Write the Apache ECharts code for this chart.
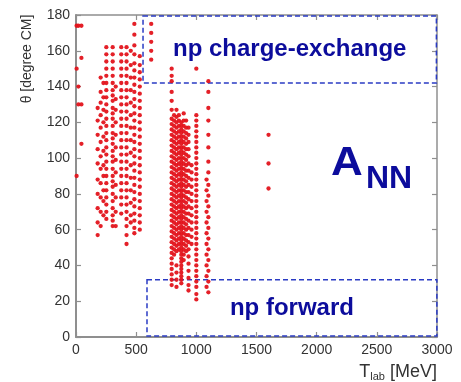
<!DOCTYPE html>
<html>
<head>
<meta charset="utf-8">
<script src="https://cdn.jsdelivr.net/npm/echarts@6/dist/echarts.min.js"></script>
<style>
  html, body { margin: 0; padding: 0; background: #fff; }
  #chart { width: 461px; height: 382px; }
</style>
</head>
<body>
<div id="chart"></div>
<script>
// T_lab [MeV] of each measurement column
var energies = [5, 20, 45, 180, 205, 228, 252, 305, 330, 376, 420, 455, 485, 530, 625,
    795, 815, 835, 855, 875, 895, 915, 935, 960, 1000, 1085, 1100, 1600];

// theta [degree CM] measured at each column
var angles = [
    [174, 150, 90],
    [174, 140, 130],
    [174, 156, 130, 108],
    [128, 121, 113, 105, 97, 88, 80, 72, 64, 57],
    [145, 137, 131, 124, 117, 109, 101, 94, 86, 78, 70, 62],
    [142, 134, 127, 120, 112, 104, 96, 90, 82, 76, 68],
    [162, 158, 154, 150, 146, 142, 138, 134, 130, 126, 122, 118, 114, 110, 106, 102, 98, 94, 90, 86, 82, 78, 74, 70, 66],
    [162, 158, 154, 150, 146, 142, 138, 135, 132, 128, 125, 122, 118, 114, 111, 108, 104, 101, 98, 94, 90, 87, 84, 80, 76, 72, 68, 65, 62],
    [140, 133, 127, 120, 113, 106, 99, 92, 85, 78, 70, 62],
    [162, 158, 154, 150, 146, 142, 138, 134, 130, 126, 122, 118, 114, 110, 106, 102, 98, 94, 90, 86, 82, 78, 74, 69],
    [162, 158, 154, 150, 146, 142, 138, 134, 130, 126, 122, 118, 114, 110, 106, 102, 98, 94, 90, 86, 82, 78, 74, 70, 66, 62, 57, 52],
    [160, 152, 145, 138, 131, 124, 117, 110, 103, 96, 89, 82, 75, 68, 64],
    [175, 169, 163, 158, 153, 149, 145, 141, 137, 133, 129, 125, 121, 117, 113, 109, 105, 101, 97, 93, 89, 85, 81, 77, 73, 69, 65, 61, 58],
    [157, 152, 148, 144, 140, 136, 132, 128, 124, 120, 116, 112, 108, 104, 100, 96, 92, 88, 84, 80, 76, 72, 68, 64, 60],
    [175, 170, 165, 160, 155],
    [150, 146, 143, 137, 132, 127, 122, 119, 116, 113, 110, 107, 104, 101, 98, 95, 92, 89, 86, 83, 80, 77, 74, 71, 68, 65, 62, 59, 56, 53, 50, 47, 44, 41, 38, 35, 32, 29],
    [124, 121, 118, 115, 112, 109, 106, 103, 100, 97, 94, 91, 88, 85, 82, 79, 76, 73, 70, 67, 64, 61, 58, 55, 52, 49, 46],
    [127, 123, 120, 117, 114, 111, 108, 105, 102, 99, 96, 93, 90, 87, 84, 81, 78, 75, 72, 69, 66, 63, 60, 57, 54, 51, 48, 40, 36, 32, 28],
    [124, 121, 118, 115, 112, 109, 106, 103, 100, 97, 94, 91, 88, 85, 82, 79, 76, 73, 70, 67, 64, 61, 58, 55, 52, 49],
    [120, 118, 116, 114, 112, 110, 108, 106, 104, 102, 100, 98, 96, 94, 92, 90, 88, 86, 84, 82, 80, 78, 76, 74, 72, 70, 68, 66, 64, 62, 60, 58, 56, 54, 52, 50, 48, 46, 44, 42, 40, 38, 36, 34, 32, 30],
    [125, 121, 118, 115, 112, 109, 106, 103, 100, 97, 94, 91, 88, 85, 82, 79, 76, 73, 70, 67, 64, 61, 58, 55, 52, 49, 46, 43],
    [121, 117, 114, 111, 108, 105, 102, 99, 96, 93, 90, 87, 84, 81, 78, 75, 72, 69, 66, 63, 60, 57, 54, 51, 48],
    [117, 113, 109, 105, 101, 97, 93, 89, 85, 81, 77, 73, 69, 65, 61, 57, 53, 49, 45, 41, 37, 33, 29, 26],
    [96, 92, 88, 84, 80, 76, 72, 68, 64, 60, 56, 52],
    [150, 124, 121, 118, 115, 112, 109, 106, 103, 100, 97, 94, 91, 88, 85, 82, 79, 76, 73, 70, 67, 64, 61, 58, 55, 52, 49, 46, 43, 40, 37, 34, 31, 28, 24, 21],
    [88, 82, 76, 70, 64, 58, 52, 46, 40, 34, 28],
    [143, 137, 128, 121, 113, 106, 98, 92, 85, 79, 73, 67, 61, 55, 49, 43, 37, 31, 25],
    [113, 97, 83]
];

var xTicks = [0, 500, 1000, 1500, 2000, 2500, 3000];
var yTicks = [0, 20, 40, 60, 80, 100, 120, 140, 160, 180];

var points = [];
energies.forEach(function (e, i) {
    angles[i].forEach(function (a) {
        points.push([e, a]);
    });
});

var axisGray = '#8f8f8f';
var font = '"Liberation Sans", Arial, sans-serif';
var blueText = '#0c0c9c';

function frameAxis(pos, showLabel, ticks) {
    return {
        type: 'value',
        position: pos,
        min: ticks[0],
        max: ticks[ticks.length - 1],
        interval: ticks[1] - ticks[0],
        axisLine: { show: true, onZero: false, lineStyle: { color: axisGray, width: showLabel ? 2 : 1.5 } },
        axisTick: { show: true, inside: true, length: 5, lineStyle: { color: axisGray, width: 1.2 } },
        axisLabel: {
            show: showLabel, color: '#333', fontSize: 14, fontFamily: font, margin: 6,
            formatter: function (v) { return String(v); }
        },
        splitLine: { show: false }
    };
}

var chart = echarts.init(document.getElementById('chart'));
chart.setOption({
    animation: false,
    grid: { left: 76, top: 15, width: 361, height: 322 },
    xAxis: [frameAxis('bottom', true, xTicks), frameAxis('top', false, xTicks)],
    yAxis: [frameAxis('left', true, yTicks), frameAxis('right', false, yTicks)],
    series: [{
        type: 'scatter',
        data: points,
        symbolSize: 4.3,
        itemStyle: { color: '#e3141c', opacity: 0.95 },
        markArea: {
            silent: true,
            itemStyle: {
                color: 'rgba(0,0,0,0)',
                borderColor: '#2a3bc4',
                borderWidth: 1.5,
                borderType: [5, 3]
            },
            label: {
                show: true,
                position: 'inside',
                color: blueText,
                fontSize: 24,
                fontWeight: 'bold',
                fontFamily: font
            },
            data: [
                [{ name: 'np charge-exchange', coord: [557, 179.5] }, { coord: [2995, 142] }],
                [{ name: 'np forward', coord: [590, 32] }, { coord: [2999, 0.5] }]
            ]
        }
    }],
    graphic: [
        {
            type: 'text', x: 27, y: 59, rotation: Math.PI / 2,
            style: { text: 'θ [degree CM]', fill: '#333', font: '14px ' + font, textAlign: 'center', textVerticalAlign: 'middle' }
        },
        {
            type: 'text', x: 437, y: 372,
            style: {
                text: '{t|T}{s|lab}{t| [MeV]}',
                textAlign: 'right', textVerticalAlign: 'middle',
                rich: {
                    t: { fontSize: 18, fontFamily: font, fill: '#333' },
                    s: { fontSize: 11, fontFamily: font, fill: '#333', padding: [9, 0, 0, 0] }
                }
            }
        },
        {
            type: 'text', x: 331, y: 164, scaleX: 1.1,
            style: { text: 'A', fill: blueText, font: 'bold 40px ' + font, textAlign: 'left', textVerticalAlign: 'middle' }
        },
        {
            type: 'text', x: 366, y: 179,
            style: { text: 'NN', fill: blueText, font: 'bold 32px ' + font, textAlign: 'left', textVerticalAlign: 'middle' }
        }
    ]
});
</script>
</body>
</html>
